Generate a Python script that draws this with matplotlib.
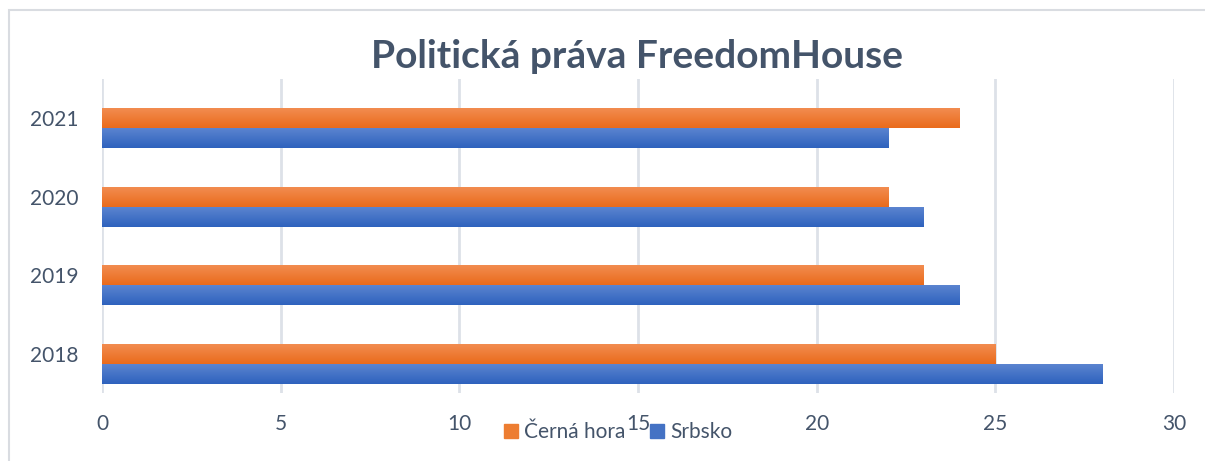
import numpy as np
import matplotlib
matplotlib.use("Agg")
import matplotlib.pyplot as plt
from matplotlib.patches import Rectangle
from matplotlib.colors import LinearSegmentedColormap

# data
years = ["2018", "2019", "2020", "2021"]
cerna_hora = [25, 23, 22, 24]
srbsko = [28, 24, 23, 22]

plt.rcParams['font.family'] = ['Lato', 'DejaVu Sans']
text_color = "#44546A"

fig = plt.figure(figsize=(12.05, 4.61), dpi=100)
ax = fig.add_axes([0.0846, 0.1475, 0.8897, 0.6812])

y = np.arange(len(years))
h = 0.254
# Excel leaves an empty slot above the two series, so the pair sits a bit low
bars_ch = ax.barh(y, cerna_hora, height=h, color="#ED7D31", zorder=2)
bars_sr = ax.barh(y - h, srbsko, height=h, color="#4472C4", zorder=2)

# gradient fill like Excel
cmap_or = LinearSegmentedColormap.from_list("or", ["#F28C50", "#EA6B1B"])
cmap_bl = LinearSegmentedColormap.from_list("bl", ["#5B84D0", "#2E62BD"])
grad = np.linspace(0, 1, 64).reshape(-1, 1)
for bars, cm in [(bars_ch, cmap_or), (bars_sr, cmap_bl)]:
    for b in bars:
        x0, y0 = b.get_x(), b.get_y()
        w, hh = b.get_width(), b.get_height()
        ax.imshow(grad, cmap=cm, aspect="auto", extent=(x0, x0 + w, y0, y0 + hh),
                  origin="upper", zorder=3, interpolation="bilinear")

ax.set_xlim(0, 30)
ax.set_ylim(-0.5, 3.5)
ax.set_xticks(np.arange(0, 31, 5))
ax.set_yticks(y)
ax.set_yticklabels(years)
ax.grid(axis="x", color="#DDE1E8", linewidth=2, zorder=0)
for s in ax.spines.values():
    s.set_visible(False)
ax.tick_params(axis="both", length=0, labelsize=15, colors=text_color)
ax.tick_params(axis="x", pad=15)
ax.tick_params(axis="y", pad=17)

fig.text(0.529, 0.878, "Politická práva FreedomHouse", ha="center", va="center",
         fontsize=28, fontweight="bold", color=text_color)

h1 = Rectangle((0, 0), 1, 1, color="#ED7D31")
h2 = Rectangle((0, 0), 1, 1, color="#4472C4")
leg = fig.legend([h1, h2], ["Černá hora", "Srbsko"], loc="center", bbox_to_anchor=(0.513, 0.062),
                 ncol=2, frameon=False, fontsize=15, handlelength=0.65, handleheight=0.65,
                 handletextpad=0.3, columnspacing=1.2)
for t in leg.get_texts():
    t.set_color(text_color)

# chart border (top and left visible)
fig.patches.append(Rectangle((9 / 1205, -0.1), 1.2, 1 - 10 / 461 + 0.1, transform=fig.transFigure,
                             fill=False, edgecolor="#D9DCE1", linewidth=1.5))

fig.savefig("out.png", dpi=100)
